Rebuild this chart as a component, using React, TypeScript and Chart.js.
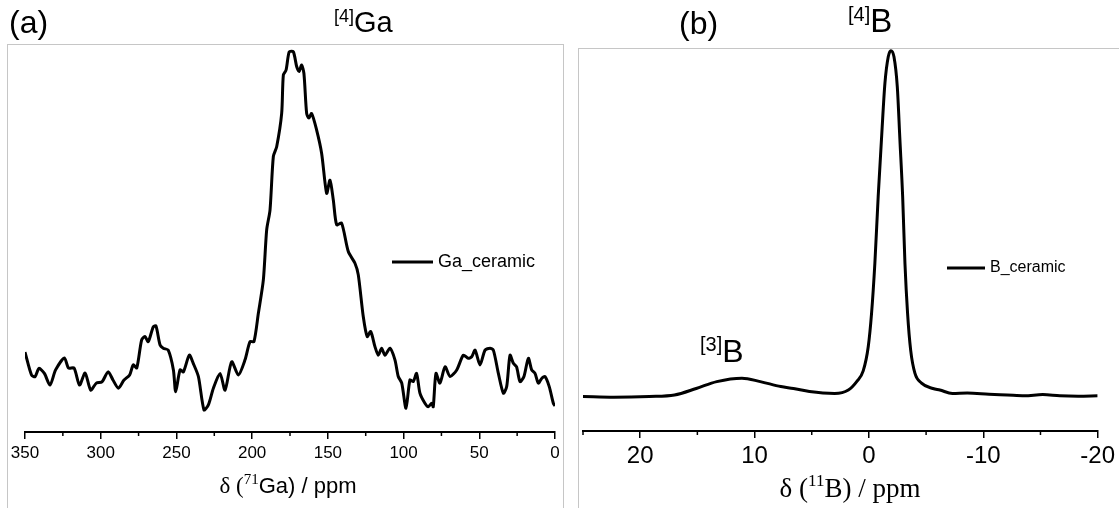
import React, { useEffect, useRef } from "react";
import { Chart, registerables } from "chart.js";
Chart.register(...registerables);

// ---- (a) 71Ga spectrum ----
const GA_PPM = [350, 345.7, 343.3, 340.8, 337.2, 333.5, 329.8, 324, 321.3, 317.6, 314, 310.3, 306.6, 302.9, 299.2, 295.1, 291.9, 288.3, 284.6, 280.9, 278.5, 276.2, 273, 270.8, 268.6, 265.3, 263.5, 260.8, 258.7, 255.4, 252, 250.5, 247.6, 245.4, 241.5, 238.9, 235.5, 231.8, 228.9, 225.6, 221.2, 217.9, 213.5, 209.1, 204.7, 201.4, 198.8, 195.9, 192.6, 190.4, 188.2, 186, 183.8, 180.5, 179.4, 177.6, 175.5, 172.8, 170.6, 169, 167.3, 165.8, 164, 162.5, 160.7, 157.4, 154.1, 150.8, 148.6, 146.4, 144.2, 140.9, 136.5, 132.1, 129.9, 126.6, 124, 121.7, 118.9, 116.7, 114.5, 112.3, 109, 105.7, 103.5, 101.2, 98.4, 95.8, 93.6, 91.4, 89.2, 85.9, 83.7, 81.4, 80.4, 78.6, 76, 72.6, 69.3, 64.9, 60.5, 57.3, 55, 52.8, 49.5, 46.2, 42.9, 40.7, 37.4, 34.1, 31.9, 29.7, 27.5, 25.4, 23.1, 20.5, 17.6, 15.4, 13.2, 11, 8.8, 6.6, 3.8, 1.1, 0];
const GA_INT = [20.6, 14.7, 14.3, 16.4, 15.1, 12.1, 16.0, 19.1, 16.5, 16.5, 12.1, 15.2, 10.8, 12.6, 12.9, 15.5, 13.4, 11.3, 13.4, 14.7, 17.3, 16.5, 23.7, 24.6, 23.3, 27.1, 27.3, 22.4, 21.6, 21.1, 16.0, 10.4, 16.0, 15.5, 19.8, 17.7, 14.3, 5.7, 7.0, 11.3, 15.1, 10.8, 18.1, 14.7, 18.6, 23.3, 23.3, 30.6, 39.2, 52.1, 57.2, 71.0, 73.5, 82.1, 92.0, 93.3, 98.0, 98.0, 94.2, 92.9, 94.6, 92.4, 82.1, 80.9, 82.1, 77.8, 71.8, 61.5, 64.9, 59.8, 53.4, 53.8, 46.5, 43.5, 40.5, 29.7, 24.6, 25.9, 22.0, 19.8, 21.6, 19.8, 21.6, 18.6, 14.3, 12.6, 6.1, 13.4, 13.0, 15.1, 10.0, 7.4, 6.5, 7.4, 6.5, 15.1, 12.6, 16.8, 14.3, 16.0, 19.8, 19.0, 19.4, 21.1, 17.3, 21.1, 21.6, 21.1, 15.1, 10.0, 11.7, 19.8, 17.7, 16.8, 13.0, 14.3, 19.0, 16.0, 15.1, 12.6, 13.8, 14.3, 11.7, 7.4, 6.7];
const GA_MAJOR_TICKS = [350, 300, 250, 200, 150, 100, 50, 0];
const GA_MINOR_TICKS = [325, 275, 225, 175, 125, 75, 25];

// ---- (b) 11B spectrum ----
const B_PPM = [25, 22.3, 19.2, 17, 15.1, 13.3, 11.1, 9.5, 7.7, 6.6, 5.2, 3.0, 1.8, 1.07, 0.5, 0.06, -0.23, -0.52, -0.81, -1.11, -1.4, -1.69, -1.92, -2.19, -2.48, -2.71, -2.95, -3.15, -3.38, -3.65, -4.02, -4.6, -5.6, -6.2, -7.3, -8.6, -10.5, -12.1, -13.6, -15.2, -16.7, -18.3, -20];
const B_INT = [9.0, 8.8, 9.0, 9.4, 11.1, 12.9, 13.8, 12.9, 11.6, 11.1, 10.3, 9.8, 10.7, 12.9, 15.7, 22.0, 30.7, 43.8, 61.2, 76.8, 90.8, 97.7, 99.3, 97.7, 89.9, 76.0, 61.2, 43.8, 30.7, 21.1, 15.1, 12.5, 11.1, 10.7, 9.8, 9.9, 9.6, 9.4, 9.2, 9.5, 9.2, 9.1, 9.2];
const B_MAJOR_TICKS = [20, 10, 0, -10, -20];
const B_MINOR_TICKS = [25, 15, 5, -5, -15];

type Part = { text: string; font: string; dy?: number };

function drawRich(ctx: CanvasRenderingContext2D, parts: Part[], x: number, y: number, align: "left" | "center") {
  ctx.save();
  ctx.textBaseline = "alphabetic";
  ctx.textAlign = "left";
  let total = 0;
  const widths = parts.map((p) => {
    ctx.font = p.font;
    const w = ctx.measureText(p.text).width;
    total += w;
    return w;
  });
  let cx = align === "center" ? x - total / 2 : x;
  parts.forEach((p, i) => {
    ctx.font = p.font;
    ctx.fillStyle = "#000";
    ctx.fillText(p.text, cx, y + (p.dy || 0));
    cx += widths[i];
  });
  ctx.restore();
}

type PanelCfg = {
  box: [number, number, number, number];
  minor: number[];
  legend: { x1: number; x2: number; y: number; tx: number; font: string };
  texts: { parts: Part[]; x: number; y: number; align: "left" | "center" }[];
};

function panelPlugin(cfg: PanelCfg) {
  return {
    id: "panelDecor",
    beforeDraw(chart: any) {
      const ctx = chart.ctx;
      ctx.save();
      ctx.strokeStyle = "#c6c6c6";
      ctx.lineWidth = 1;
      const [bx, by, bw, bh] = cfg.box;
      ctx.strokeRect(bx + 0.5, by + 0.5, bw, bh);
      ctx.restore();
    },
    afterDraw(chart: any) {
      const ctx = chart.ctx;
      const sc = chart.scales.x;
      ctx.save();
      ctx.strokeStyle = "#000";
      ctx.lineWidth = 1.5;
      cfg.minor.forEach((v) => {
        const px = sc.getPixelForValue(v);
        ctx.beginPath();
        ctx.moveTo(px, sc.top);
        ctx.lineTo(px, sc.top + 4);
        ctx.stroke();
      });
      const ds = chart.data.datasets[0];
      ctx.strokeStyle = ds.borderColor;
      ctx.lineWidth = 3;
      ctx.beginPath();
      ctx.moveTo(cfg.legend.x1, cfg.legend.y);
      ctx.lineTo(cfg.legend.x2, cfg.legend.y);
      ctx.stroke();
      ctx.fillStyle = "#000";
      ctx.font = cfg.legend.font;
      ctx.textBaseline = "middle";
      ctx.textAlign = "left";
      ctx.fillText(ds.label, cfg.legend.tx, cfg.legend.y);
      ctx.restore();
      cfg.texts.forEach((t) => drawRich(ctx, t.parts, t.x, t.y, t.align));
    },
  };
}

function makeChart(
  canvas: HTMLCanvasElement,
  ppm: number[],
  inten: number[],
  label: string,
  xmin: number,
  xmax: number,
  major: number[],
  pad: { left: number; right: number; top: number },
  axisH: number,
  tickFont: number,
  tickPad: number,
  smooth: boolean,
  plugin: any
) {
  return new Chart(canvas, {
    type: "line",
    data: {
      datasets: [
        {
          label,
          data: ppm.map((p, i) => ({ x: p, y: inten[i] })),
          borderColor: "#000",
          borderWidth: 3,
          pointRadius: 0,
          fill: false,
          tension: smooth ? 0 : 0.25,
          cubicInterpolationMode: smooth ? "monotone" : "default",
        },
      ],
    },
    options: {
      responsive: false,
      animation: false,
      devicePixelRatio: 1,
      layout: { padding: { left: pad.left, right: pad.right, top: pad.top, bottom: 0 } },
      plugins: { legend: { display: false }, tooltip: { enabled: false } },
      scales: {
        x: {
          type: "linear",
          min: xmin,
          max: xmax,
          reverse: true,
          afterBuildTicks: (s: any) => {
            s.ticks = major.map((v) => ({ value: v }));
          },
          afterFit: (s: any) => {
            s.height = axisH;
          },
          grid: {
            display: true,
            drawOnChartArea: false,
            drawTicks: true,
            tickLength: 7,
            color: "#000",
            lineWidth: 1.5,
          },
          border: { display: true, color: "#000", width: 2 },
          ticks: {
            autoSkip: false,
            maxRotation: 0,
            padding: tickPad,
            color: "#000",
            font: { family: "Arial, 'Liberation Sans', sans-serif", size: tickFont },
          },
        },
        y: { display: false, min: 0, max: 100 },
      },
    },
    plugins: [plugin],
  } as any);
}

export default function App() {
  const refA = useRef<HTMLCanvasElement>(null);
  const refB = useRef<HTMLCanvasElement>(null);

  useEffect(() => {
    document.body.style.margin = "0";
    const arial = "Arial, 'Liberation Sans', sans-serif";
    const times = "'Times New Roman', 'Liberation Serif', serif";

    const plugA = panelPlugin({
      box: [7, 44, 556, 480],
      minor: GA_MINOR_TICKS,
      legend: { x1: 392, x2: 433, y: 262, tx: 438, font: `18px ${arial}` },
      texts: [
        { parts: [{ text: "(a)", font: `32px ${arial}` }], x: 9, y: 33, align: "left" },
        {
          parts: [
            { text: "[4]", font: `18px ${arial}`, dy: -10 },
            { text: "Ga", font: `29px ${arial}` },
          ],
          x: 334,
          y: 32,
          align: "left",
        },
        {
          parts: [
            { text: "δ (", font: `23px ${times}` },
            { text: "71", font: `15px ${times}`, dy: -9 },
            { text: "Ga) / ppm", font: `22px ${arial}` },
          ],
          x: 288,
          y: 493,
          align: "center",
        },
      ],
    });

    const plugB = panelPlugin({
      box: [8, 48, 600, 480],
      minor: B_MINOR_TICKS,
      legend: { x1: 377, x2: 415, y: 268, tx: 420, font: `16px ${arial}` },
      texts: [
        { parts: [{ text: "(b)", font: `32px ${arial}` }], x: 109, y: 34, align: "left" },
        {
          parts: [
            { text: "[4]", font: `20px ${arial}`, dy: -11 },
            { text: "B", font: `33px ${arial}` },
          ],
          x: 278,
          y: 32,
          align: "left",
        },
        {
          parts: [
            { text: "[3]", font: `20px ${arial}`, dy: -11 },
            { text: "B", font: `32px ${arial}` },
          ],
          x: 130,
          y: 362,
          align: "left",
        },
        {
          parts: [
            { text: "δ (", font: `27px ${times}` },
            { text: "11", font: `17px ${times}`, dy: -11 },
            { text: "B) / ppm", font: `27px ${times}` },
          ],
          x: 280,
          y: 497,
          align: "center",
        },
      ],
    });

    const a = makeChart(refA.current!, GA_PPM, GA_INT, "Ga_ceramic", 0, 350, GA_MAJOR_TICKS,
      { left: 25, right: 15, top: 44 }, 76, 17, 4, false, plugA);
    const b = makeChart(refB.current!, B_PPM, B_INT, "B_ceramic", -20, 25, B_MAJOR_TICKS,
      { left: 13, right: 21, top: 48 }, 77, 24, 4, true, plugB);
    return () => {
      a.destroy();
      b.destroy();
    };
  }, []);

  return (
    <div style={{ position: "relative", width: 1119, height: 508, overflow: "hidden", background: "#fff" }}>
      <canvas ref={refA} width={570} height={508} style={{ position: "absolute", left: 0, top: 0 }} />
      <canvas ref={refB} width={549} height={508} style={{ position: "absolute", left: 570, top: 0 }} />
    </div>
  );
}
